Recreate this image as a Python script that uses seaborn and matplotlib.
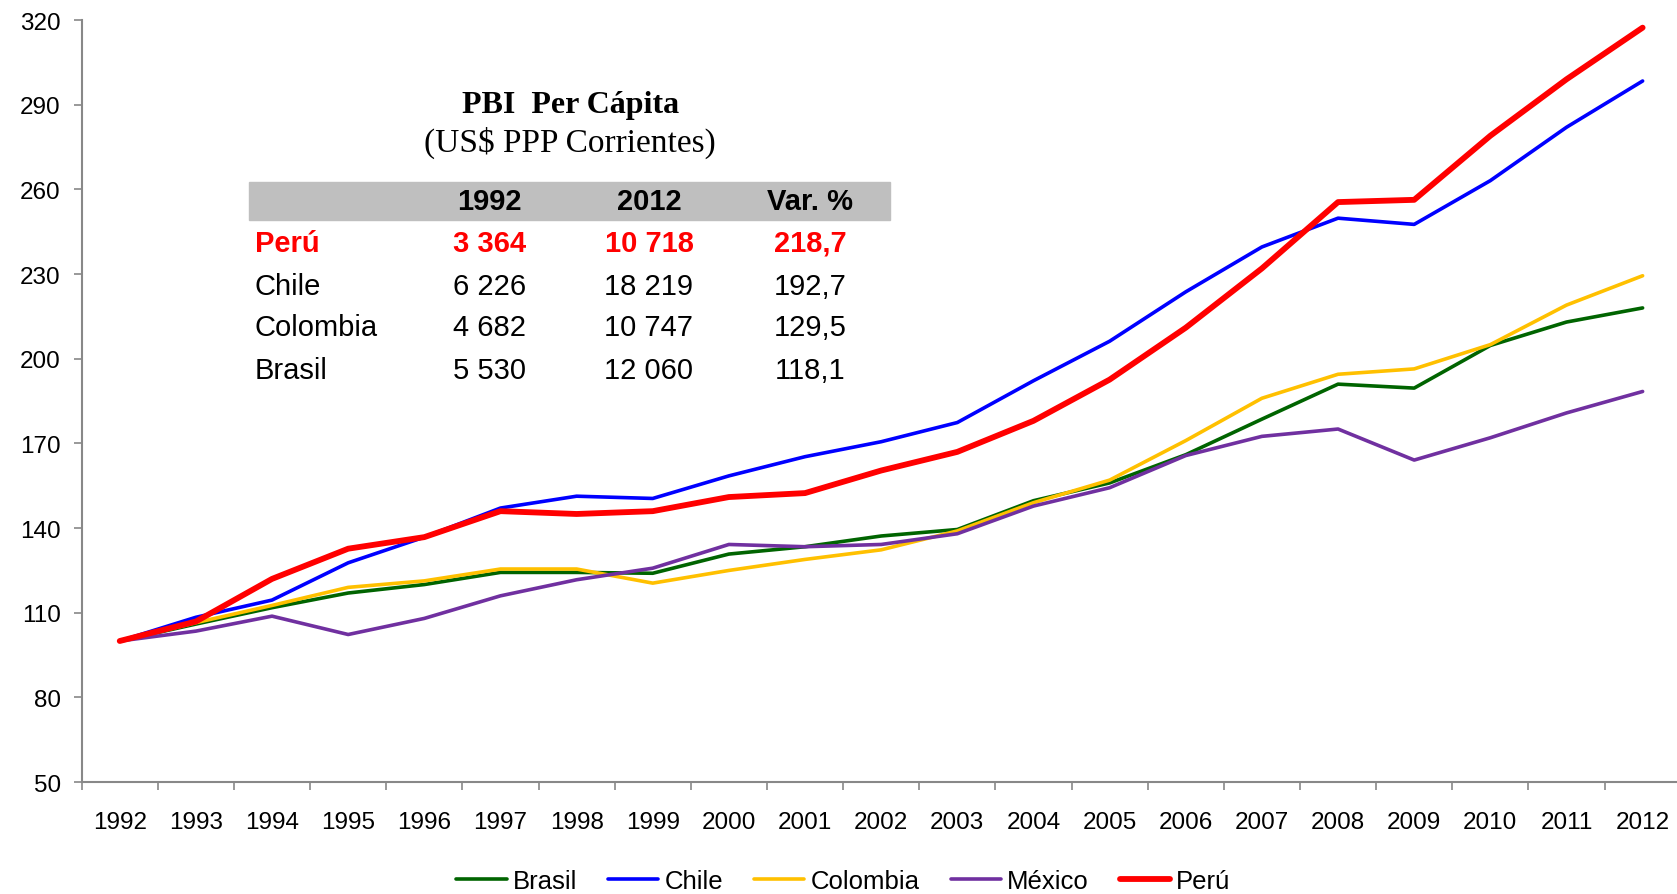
import pandas as pd
import seaborn as sns
import matplotlib.pyplot as plt
from matplotlib.patches import Rectangle

# datos (índice 1992 = 100)
years = list(range(1992, 2013))
brasil = [100, 106, 111.8, 117, 120, 124.3, 124.3, 124, 130.8, 133.4, 137.2,
          139.5, 149.7, 156, 166, 178.6, 191, 189.6, 204.7, 213, 218]
chile = [100, 108.4, 114.5, 127.7, 136.8, 147.1, 151.3, 150.5, 158.5, 165.3, 170.6,
         177.4, 192.2, 206.2, 223.7, 239.6, 249.8, 247.6, 263.1, 282, 298.4]
colombia = [100, 106.5, 112.6, 119, 121.3, 125.5, 125.5, 120.5, 125, 128.9, 132.3,
            139, 149, 157, 171, 186, 194.5, 196.4, 205, 219, 229.4]
mexico = [100, 103.5, 108.8, 102.3, 108, 116, 121.7, 125.8, 134.2, 133.4, 134.2,
          138, 147.8, 154.3, 165.7, 172.5, 175.1, 164.1, 172, 180.8, 188.4]
peru = [100, 106.9, 122, 132.7, 136.8, 146, 145, 146, 151, 152.4, 160.4,
        167, 178, 192.6, 211, 232, 255.5, 256.3, 279, 299, 317.3]

countries = ['Brasil', 'Chile', 'Colombia', 'México', 'Perú']
colors = ['#006400', '#0000FF', '#FFC000', '#7030A0', '#FF0000']
widths = [2.6, 2.6, 2.6, 2.6, 4.2]

# tabla
table_rows = ['Perú', 'Chile', 'Colombia', 'Brasil']
table_1992 = ['3 364', '6 226', '4 682', '5 530']
table_2012 = ['10 718', '18 219', '10 747', '12 060']
table_var = ['218,7', '192,7', '129,5', '118,1']

df = pd.DataFrame({'year': years, 'Brasil': brasil, 'Chile': chile,
                   'Colombia': colombia, 'México': mexico, 'Perú': peru})
df = df.melt(id_vars='year', var_name='pais', value_name='indice')

sns.set_style('white')
plt.rcParams['font.family'] = ['Liberation Sans', 'DejaVu Sans']
plt.rcParams['text.color'] = 'black'
plt.rcParams['xtick.labelcolor'] = 'black'
plt.rcParams['ytick.labelcolor'] = 'black'

fig = plt.figure(figsize=(16.77, 8.95), dpi=100)
ax = fig.add_axes([0.0487, 0.125, 0.9535, 0.8515])

for c, col, lw in zip(countries, colors, widths):
    sns.lineplot(data=df[df['pais'] == c], x='year', y='indice', color=col,
                 linewidth=lw, label=c, ax=ax, zorder=3 if c == 'Perú' else 2)

ax.set_xlim(1991.5, 2012.5)
ax.set_ylim(50, 320)
ax.set_yticks(range(50, 321, 30))
ax.set_xticks([y - 0.5 for y in years] + [2012.5])
ax.set_xticklabels([])
ax.set_xticks(years, minor=True)
ax.set_xticklabels([str(y) for y in years], minor=True)
ax.tick_params(axis='x', which='major', direction='out', length=6, width=1.2,
               color='#888888', bottom=True)
ax.tick_params(axis='x', which='minor', length=0, pad=21, labelsize=17.5,
               labelcolor='black')
ax.tick_params(axis='y', direction='out', length=6, width=1.2, color='#888888',
               left=True, pad=9, labelsize=17.5, labelcolor='black')
ax.set_xlabel('')
ax.set_ylabel('')
for s in ['top', 'right']:
    ax.spines[s].set_visible(False)
for s in ['left', 'bottom']:
    ax.spines[s].set_color('#888888')
    ax.spines[s].set_linewidth(1.5)

ax.get_legend().remove()
handles, labels = ax.get_legend_handles_labels()
fig.legend(handles, labels, loc='center', bbox_to_anchor=(0.503, 0.0145), ncol=5,
           frameon=False, fontsize=18.5, handlelength=1.95, handletextpad=0.25,
           columnspacing=1.2)

# cuadro
fig.text(0.340, 0.882, 'PBI  Per Cápita', family='Liberation Serif', weight='bold',
         fontsize=23, ha='center', va='center')
fig.text(0.340, 0.840, '(US$ PPP Corrientes)', family='Liberation Serif',
         fontsize=24, ha='center', va='center')
fig.patches.append(Rectangle((0.1485, 0.7531), 0.3822, 0.0425, transform=fig.transFigure,
                             color='#BFBFBF', zorder=0))
col_x = [0.292, 0.387, 0.483]
for x, h in zip(col_x, ['1992', '2012', 'Var. %']):
    fig.text(x, 0.774, h, fontsize=21, weight='bold', ha='center', va='center')
row_y = [0.7274, 0.6793, 0.6335, 0.5855]
for i, name in enumerate(table_rows):
    kw = dict(fontsize=21, va='center')
    if name == 'Perú':
        kw.update(color='#FF0000', weight='bold')
    fig.text(0.152, row_y[i], name, ha='left', **kw)
    for x, v in zip(col_x, [table_1992[i], table_2012[i], table_var[i]]):
        fig.text(x, row_y[i], v, ha='center', **kw)

plt.savefig('out.png', dpi=100)
